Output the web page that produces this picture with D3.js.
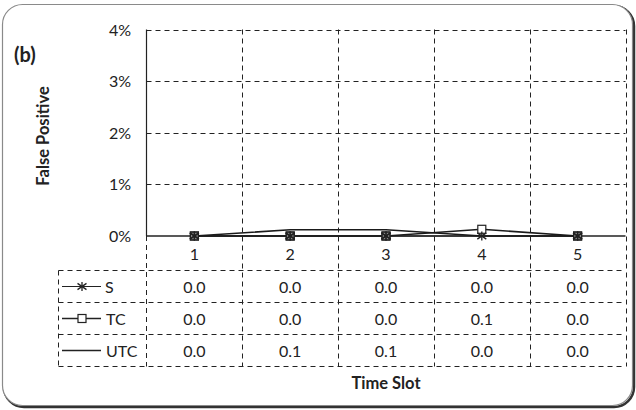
<!DOCTYPE html>
<html>
<head>
<meta charset="utf-8">
<script src="https://cdn.jsdelivr.net/npm/d3@7"></script>
<style>
html,body{margin:0;padding:0;background:#fff;}
svg{display:block;}
text{font-family:Lato,"Open Sans",sans-serif;fill:#222;}
</style>
</head>
<body>
<svg id="chart" width="636" height="410"></svg>
<script>
const categories = ["1","2","3","4","5"];
const seriesNames = ["S","TC","UTC"];
const valuesS = [0.0, 0.0, 0.0, 0.0, 0.0];
const valuesTC = [0.0, 0.0, 0.0, 0.13, 0.0];
const valuesUTC = [0.0, 0.12, 0.12, 0.0, 0.0];
const yTicks = [0, 1, 2, 3, 4];
const yLabel = "False Positive";
const xLabel = "Time Slot";
const panelLabel = "(b)";

const series = [
  {name: seriesNames[0], values: valuesS, marker: "star"},
  {name: seriesNames[1], values: valuesTC, marker: "square"},
  {name: seriesNames[2], values: valuesUTC, marker: "none"}
];

const svg = d3.select("#chart");
const L = 146.5, R = 625.5, T = 29.5, B = 236;
const tableTop = 270.5, rowH = 32, tableLeft = 58.5;
const tableBottom = tableTop + rowH * 3;
const dash = "5,4";
const fs = 16;

// frame with shadow
svg.append("rect").attr("x", 4).attr("y", 6).attr("width", 630).attr("height", 401)
  .attr("rx", 20).attr("fill", "none").attr("stroke", "#333").attr("stroke-width", 2.5);
svg.append("rect").attr("x", 2.5).attr("y", 4.5).attr("width", 630).attr("height", 401)
  .attr("rx", 20).attr("fill", "#fff").attr("stroke", "#8a8a8a").attr("stroke-width", 1.2);

const x = d3.scaleBand().domain(categories).range([L, R]).padding(0);
const y = d3.scaleLinear().domain([0, 4]).range([B, T]);

// horizontal gridlines
svg.append("g").selectAll("line").data(yTicks.filter(t => t > 0)).join("line")
  .attr("x1", L).attr("x2", R)
  .attr("y1", d => Math.round(y(d)) + 0.5).attr("y2", d => Math.round(y(d)) + 0.5)
  .attr("stroke", "#222").attr("stroke-width", 1).attr("stroke-dasharray", dash);

// vertical gridlines (category boundaries) down through table
const bounds = categories.map(c => x(c) + x.bandwidth());
svg.append("g").selectAll("line").data(bounds).join("line")
  .attr("x1", d => Math.round(d) + 0.5).attr("x2", d => Math.round(d) + 0.5)
  .attr("y1", T).attr("y2", tableBottom)
  .attr("stroke", "#222").attr("stroke-width", 1).attr("stroke-dasharray", dash);

// left axis solid part
svg.append("line").attr("x1", L).attr("x2", L).attr("y1", T).attr("y2", B)
  .attr("stroke", "#222").attr("stroke-width", 1.2);
// left axis dashed below
svg.append("line").attr("x1", L).attr("x2", L).attr("y1", B).attr("y2", tableBottom)
  .attr("stroke", "#222").attr("stroke-width", 1).attr("stroke-dasharray", dash);

// table horizontal lines
for (let i = 0; i <= 3; i++) {
  svg.append("line").attr("x1", tableLeft).attr("x2", R)
    .attr("y1", tableTop + i * rowH).attr("y2", tableTop + i * rowH)
    .attr("stroke", "#222").attr("stroke-width", 1).attr("stroke-dasharray", dash);
}
svg.append("line").attr("x1", tableLeft).attr("x2", tableLeft)
  .attr("y1", tableTop).attr("y2", tableBottom)
  .attr("stroke", "#222").attr("stroke-width", 1).attr("stroke-dasharray", dash);

// y tick labels
svg.append("g").selectAll("text").data(yTicks).join("text")
  .attr("x", 131).attr("y", d => y(d) + 6).attr("text-anchor", "end")
  .attr("font-size", fs).text(d => d + "%");

// x axis line (0%)
svg.append("line").attr("x1", L).attr("x2", R).attr("y1", y(0)).attr("y2", y(0))
  .attr("stroke", "#222").attr("stroke-width", 1.3);

// category labels
svg.append("g").selectAll("text").data(categories).join("text")
  .attr("x", d => x(d) + x.bandwidth() / 2).attr("y", 259.5)
  .attr("text-anchor", "middle").attr("font-size", fs).text(d => d);

// lines
const line = d3.line().x((d, i) => x(categories[i]) + x.bandwidth() / 2).y(d => y(d));
series.slice().reverse().forEach(s => {
  svg.append("path").attr("d", line(s.values)).attr("fill", "none")
    .attr("stroke", "#1a1a1a").attr("stroke-width", s.name === "S" ? 1.2 : 1.6);
});

function drawMarker(g, type, cx, cy) {
  if (type === "square") {
    g.append("rect").attr("x", cx - 4).attr("y", cy - 4).attr("width", 8).attr("height", 8)
      .attr("fill", "#fff").attr("stroke", "#222").attr("stroke-width", 1.2);
  } else if (type === "star") {
    const r = 4.5;
    g.append("line").attr("x1", cx - r).attr("x2", cx + r).attr("y1", cy - r * 0.7).attr("y2", cy + r * 0.7)
      .attr("stroke", "#222").attr("stroke-width", 1.3);
    g.append("line").attr("x1", cx - r).attr("x2", cx + r).attr("y1", cy + r * 0.7).attr("y2", cy - r * 0.7)
      .attr("stroke", "#222").attr("stroke-width", 1.3);
    g.append("line").attr("x1", cx).attr("x2", cx).attr("y1", cy - r).attr("y2", cy + r)
      .attr("stroke", "#222").attr("stroke-width", 1.3);
  }
}

const mg = svg.append("g");
[series[1], series[0]].forEach(s => {
  s.values.forEach((v, i) => {
    const cx = x(categories[i]) + x.bandwidth() / 2, cy = y(v);
    drawMarker(mg, s.marker, cx, cy);
  });
});
// overlapping markers shade at shared points
series[1].values.forEach((v, i) => {
  if (v === series[0].values[i]) {
    const cx = x(categories[i]) + x.bandwidth() / 2, cy = y(v);
    mg.append("rect").attr("x", cx - 4).attr("y", cy - 4).attr("width", 8).attr("height", 8)
      .attr("fill", "#333").attr("fill-opacity", 0.55).attr("stroke", "#222").attr("stroke-width", 1.2);
    drawMarker(mg, "star", cx, cy);
  }
});

// table rows
series.forEach((s, r) => {
  const cy = tableTop + r * rowH + rowH / 2;
  svg.append("line").attr("x1", 62).attr("x2", 101).attr("y1", cy).attr("y2", cy)
    .attr("stroke", "#222").attr("stroke-width", s.name === "S" ? 1 : 1.5);
  drawMarker(svg, s.marker, 82, cy);
  svg.append("text").attr("x", s.name === "S" ? 105 : 106).attr("y", cy + 6)
    .attr("font-size", fs).text(s.name);
  svg.append("g").selectAll("text").data(s.values).join("text")
    .attr("x", (d, i) => x(categories[i]) + x.bandwidth() / 2).attr("y", cy + 6.5)
    .attr("text-anchor", "middle").attr("font-size", fs).text(d => d.toFixed(1));
});

// axis titles
svg.append("text").attr("x", 386).attr("y", 389).attr("text-anchor", "middle")
  .attr("font-size", 16.5).attr("font-weight", "bold").text(xLabel);
svg.append("text").attr("transform", "translate(49,136) rotate(-90)")
  .attr("text-anchor", "middle").attr("font-size", 16.5).attr("font-weight", "bold").text(yLabel);
svg.append("text").attr("x", 14).attr("y", 62)
  .attr("font-size", 20).attr("font-weight", "bold").text(panelLabel);
</script>
</body>
</html>
